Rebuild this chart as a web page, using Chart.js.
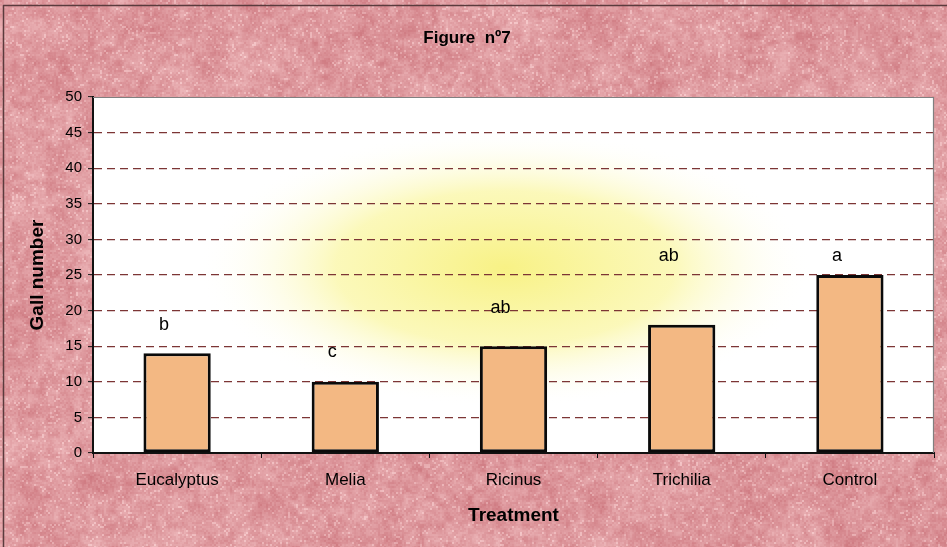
<!DOCTYPE html>
<html>
<head>
<meta charset="utf-8">
<script src="https://cdn.jsdelivr.net/npm/chart.js@4"></script>
<style>
  html, body { margin: 0; padding: 0; background: #dc999d; }
  #wrap { width: 947px; height: 547px; }
</style>
</head>
<body>
<div id="wrap"><canvas id="c" width="947" height="547"></canvas></div>
<script>
// Gall counts per treatment, with significance groups
const treatments = ['Eucalyptus', 'Melia', 'Ricinus', 'Trichilia', 'Control'];
const gallCounts = [14, 10, 15, 18, 25];
const groupLetters = ['b', 'c', 'ab', 'ab', 'a'];
const letterLevels = [18, 14.2, 20.4, 27.6, 27.6];
const yTickValues = [0, 5, 10, 15, 20, 25, 30, 35, 40, 45, 50];

const FONT = '"Liberation Sans", Arial, Helvetica, sans-serif';

// Deterministic hash used for the paper grain
function grain(x, y) {
  const h = Math.sin(x * 127.1 + y * 311.7) * 43758.5453;
  return h - Math.floor(h);
}

// Smoothly interpolated grain for the larger blotches
function smoothGrain(x, y, cell) {
  const gx = x / cell, gy = y / cell;
  const x0 = Math.floor(gx), y0 = Math.floor(gy);
  const fx = gx - x0, fy = gy - y0;
  const sx = fx * fx * (3 - 2 * fx), sy = fy * fy * (3 - 2 * fy);
  const a = grain(x0, y0 + 500), b = grain(x0 + 1, y0 + 500);
  const c = grain(x0, y0 + 501), d = grain(x0 + 1, y0 + 501);
  return (a + (b - a) * sx) * (1 - sy) + (c + (d - c) * sx) * sy;
}

// Mottled pink paper texture
function buildPaper(w, h) {
  const c = document.createElement('canvas');
  c.width = w; c.height = h;
  const cx = c.getContext('2d');
  const img = cx.createImageData(w, h);
  for (let y = 0; y < h; y++) {
    for (let x = 0; x < w; x++) {
      const fine = grain(Math.floor(x / 2), Math.floor(y / 2)) - 0.5;
      const mid = smoothGrain(x, y, 7) - 0.5;
      const coarse = smoothGrain(x + 3000, y, 30) - 0.5;
      let t = fine * 0.35 + mid * 0.45 + coarse * 0.4;
      if (fine > 0.43) t += 0.3;
      const i = (y * w + x) * 4;
      img.data[i] = Math.min(255, 222 + t * 30);
      img.data[i + 1] = Math.min(255, 153 + t * 60);
      img.data[i + 2] = Math.min(255, 158 + t * 56);
      img.data[i + 3] = 255;
    }
  }
  cx.putImageData(img, 0, 0);
  return c;
}

let paper = null;

// Paper background, white plot area and the soft yellow glow behind the bars
const backdrop = {
  id: 'backdrop',
  beforeDraw(chart) {
    const { ctx, width, height, chartArea: { left, top, right, bottom } } = chart;
    if (!paper) paper = buildPaper(width, height);
    ctx.save();
    ctx.filter = 'blur(0.7px)';
    ctx.drawImage(paper, 0, 0, width, height);
    ctx.filter = 'none';
    ctx.strokeStyle = '#5b3b3d';
    ctx.lineWidth = 1.5;
    ctx.strokeRect(3.5, 5.5, width + 20, height + 20);

    ctx.fillStyle = '#ffffff';
    ctx.fillRect(left, top, right - left, bottom - top);

    ctx.beginPath();
    ctx.rect(left, top, right - left, bottom - top);
    ctx.clip();
    ctx.translate(505, 268);
    ctx.scale(2.2, 1);
    const g = ctx.createRadialGradient(0, 0, 0, 0, 0, 140);
    g.addColorStop(0, 'rgba(247,240,120,0.9)');
    g.addColorStop(0.55, 'rgba(249,244,140,0.6)');
    g.addColorStop(1, 'rgba(255,255,255,0)');
    ctx.fillStyle = g;
    ctx.fillRect(-250, -250, 500, 500);
    ctx.restore();
  },
  beforeDatasetsDraw(chart) {
    const { ctx, chartArea: { left, top, right, bottom } } = chart;
    ctx.save();
    ctx.strokeStyle = '#808080';
    ctx.lineWidth = 1.2;
    ctx.beginPath();
    ctx.moveTo(left, top + 0.5);
    ctx.lineTo(right - 0.5, top + 0.5);
    ctx.lineTo(right - 0.5, bottom);
    ctx.stroke();
    ctx.restore();
  }
};

// Significance letters above each bar
const groupLabels = {
  id: 'groupLabels',
  afterDatasetsDraw(chart) {
    const { ctx, scales: { x, y } } = chart;
    ctx.save();
    ctx.font = '18px ' + FONT;
    ctx.fillStyle = '#000';
    ctx.textAlign = 'center';
    ctx.textBaseline = 'middle';
    groupLetters.forEach((letter, i) => {
      ctx.fillText(letter, x.getPixelForValue(i) - 13, y.getPixelForValue(letterLevels[i]));
    });
    ctx.restore();
  }
};

new Chart(document.getElementById('c'), {
  type: 'bar',
  data: {
    labels: treatments,
    datasets: [{
      data: gallCounts,
      backgroundColor: '#f3b883',
      borderColor: '#0a0a0a',
      borderWidth: 3,
      borderSkipped: false,
      barPercentage: 0.8,
      categoryPercentage: 0.5
    }]
  },
  options: {
    responsive: false,
    animation: false,
    devicePixelRatio: 1,
    layout: { padding: { left: 0, right: 13, top: 0, bottom: 0 } },
    plugins: {
      legend: { display: false },
      tooltip: { enabled: false },
      title: {
        display: true,
        text: 'Figure  nº7',
        color: '#000',
        font: { family: FONT, size: 17, weight: 'bold', lineHeight: 1.2 },
        padding: { top: 28, bottom: 48.6 }
      }
    },
    scales: {
      x: {
        offset: true,
        afterFit(scale) { scale.height = 94; },
        grid: {
          drawOnChartArea: false,
          drawTicks: true,
          tickLength: 5,
          tickColor: '#111',
          tickWidth: 1,
          offset: true
        },
        border: { color: '#111', width: 2 },
        ticks: {
          color: '#000',
          padding: 12,
          font: { family: FONT, size: 17 }
        },
        title: {
          display: true,
          text: 'Treatment',
          color: '#000',
          font: { family: FONT, size: 19, weight: 'bold' },
          padding: { top: 0, bottom: 20 }
        }
      },
      y: {
        min: 0,
        max: 50,
        afterFit(scale) { scale.width = 93; },
        afterBuildTicks(scale) { scale.ticks = yTickValues.map(v => ({ value: v })); },
        grid: {
          color: ctx => (ctx.tick && (ctx.tick.value === 0 || ctx.tick.value === 50)) ? 'rgba(0,0,0,0)' : '#7c3535',
          lineWidth: 1.3,
          drawTicks: true,
          tickLength: 5,
          tickColor: '#111',
          tickWidth: 1,
          tickBorderDash: []
        },
        border: { color: '#111', width: 2, dash: [8, 5] },
        ticks: {
          color: '#000',
          padding: 6,
          font: { family: FONT, size: 15 }
        },
        title: {
          display: true,
          text: 'Gall number',
          color: '#000',
          font: { family: FONT, size: 19, weight: 'bold' },
          padding: { top: 26, bottom: 26 }
        }
      }
    }
  },
  plugins: [backdrop, groupLabels]
});
</script>
</body>
</html>
